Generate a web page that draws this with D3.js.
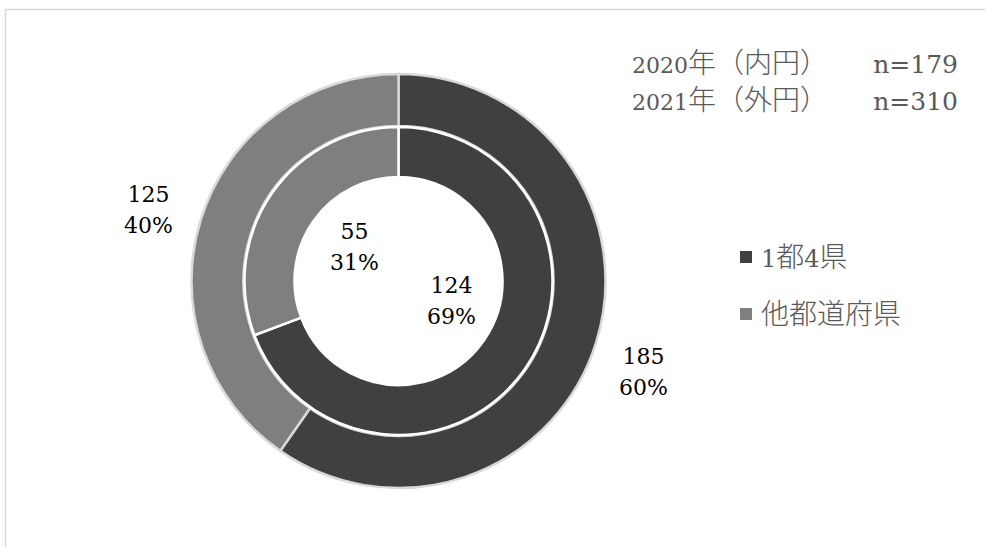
<!DOCTYPE html>
<html><head><meta charset="utf-8">
<script src="https://cdn.jsdelivr.net/npm/d3@7"></script>
<style>body{margin:0;background:#fff}svg{display:block}</style>
</head><body>
<script>
const categories = ["1都4県", "他都道府県"];
const inner2020 = [124, 55];
const outer2021 = [185, 125];
const pctInner = ["69%", "31%"];
const pctOuter = ["60%", "40%"];
const titleYears = ["2020", "2021"];
const titleRings = ["年（内円）", "年（外円）"];
const nLabels = ["n=179", "n=310"];

const W = 985, H = 547;
const svg = d3.select("body").append("svg").attr("width", W).attr("height", H);
svg.append("rect").attr("x", 5.5).attr("y", 9.5).attr("width", 990).attr("height", 560)
  .attr("fill", "#fff").attr("stroke", "#d9d9d9").attr("stroke-width", 1.5);

const color = d3.scaleOrdinal().domain(categories).range(["#404040", "#7f7f7f"]);
const cx = 398.5, cy = 281;
const g = svg.append("g").attr("transform", `translate(${cx},${cy})`);
const pie = d3.pie().sort(null).value(d => d.v);

const serif = "DejaVu Serif";

const outerData = pie(categories.map((c, i) => ({c, v: outer2021[i]})));
const innerData = pie(categories.map((c, i) => ({c, v: inner2020[i]})));
const arcOuter = d3.arc().innerRadius(155).outerRadius(207);
const arcInner = d3.arc().innerRadius(104).outerRadius(154);

g.selectAll("path.o").data(outerData).join("path").attr("class", "o")
  .attr("d", arcOuter).attr("fill", d => color(d.data.c))
  .attr("stroke", "#d9d9d9").attr("stroke-width", 2.5);
g.selectAll("path.i").data(innerData).join("path").attr("class", "i")
  .attr("d", arcInner).attr("fill", d => color(d.data.c))
  .attr("stroke", "#fff").attr("stroke-width", 2.5);

// data labels
const outerLabelPos = [[245, 83], [-250, -79]];
const innerLabelPos = [[53, 12], [-44, -42]];
function label(pos, val, pct) {
  const t = g.append("text").attr("text-anchor", "middle").attr("font-family", serif)
    .attr("font-size", 22).attr("fill", "#000");
  t.append("tspan").attr("x", pos[0]).attr("y", pos[1]).text(val);
  t.append("tspan").attr("x", pos[0]).attr("y", pos[1] + 31).text(pct);
}
outerData.forEach((d, i) => label(outerLabelPos[i], outer2021[i], pctOuter[i]));
innerData.forEach((d, i) => label(innerLabelPos[i], inner2020[i], pctInner[i]));

// title
titleYears.forEach((yr, i) => {
  const t = svg.append("text").attr("x", 632).attr("y", 73 + i * 37)
    .attr("fill", "#595959");
  t.append("tspan").attr("font-family", serif).attr("font-size", 22).text(yr);
  t.append("tspan").attr("font-family", "Noto Sans CJK JP").attr("font-size", 28)
    .attr("font-weight", 300).text(titleRings[i]);
  svg.append("text").attr("x", 958).attr("y", 73 + i * 37).attr("text-anchor", "end")
    .attr("font-family", serif).attr("font-size", 25).attr("fill", "#595959").text(nLabels[i]);
});

// legend (digits in serif, kanji in CJK font)
categories.forEach((c, i) => {
  const y = 257 + i * 57;
  svg.append("rect").attr("x", 740).attr("y", y - 6).attr("width", 12).attr("height", 12)
    .attr("fill", color(c));
  const t = svg.append("text").attr("x", 761).attr("y", y + 10).attr("fill", "#595959");
  (c.match(/[0-9]+|[^0-9]+/g) || []).forEach(part => {
    const isNum = /^[0-9]+$/.test(part);
    t.append("tspan")
      .attr("font-family", isNum ? serif : "Noto Sans CJK JP")
      .attr("font-weight", isNum ? 400 : 300)
      .attr("font-size", isNum ? 24 : 28)
      .text(part);
  });
});
</script>
</body></html>
